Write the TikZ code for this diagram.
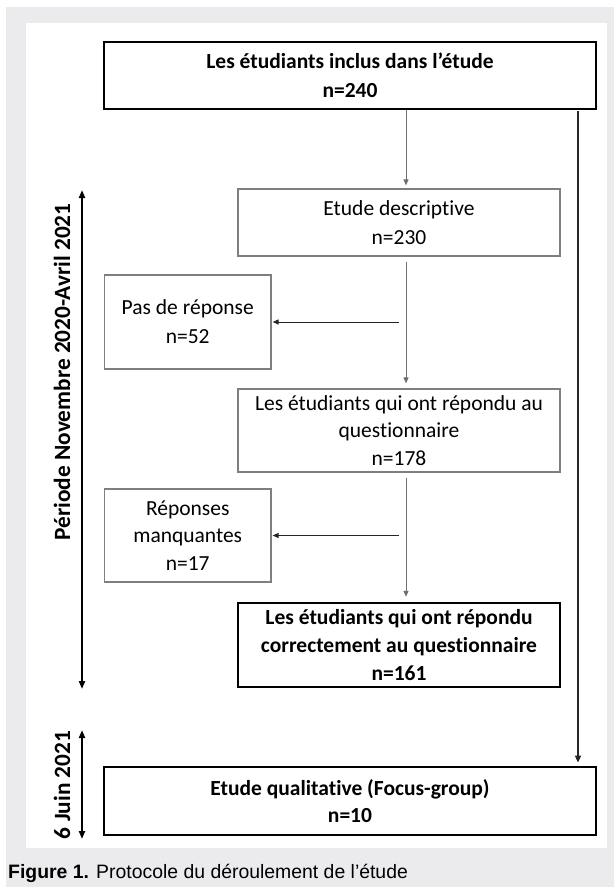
\documentclass[tikz,border=0pt]{standalone}
\usepackage{fontspec}
\setmainfont[Ligatures=NoCommon]{Carlito}
\newfontfamily\capfont{Liberation Sans}
\usetikzlibrary{arrows.meta}
\definecolor{bggray}{HTML}{EBEBED}
\definecolor{thingray}{HTML}{7F7F7F}
\definecolor{linegray}{HTML}{6E6E6E}
\definecolor{darkline}{HTML}{262626}
\begin{document}
\begin{tikzpicture}[x=1pt,y=-1pt,
  boxthin/.style={draw=thingray,line width=1.2pt,align=center,inner sep=0pt,
     font=\fontsize{21.5}{29}\selectfont,text=black},
  boxthick/.style={draw=black,line width=2.8pt,align=center,inner sep=0pt,
     font=\bfseries\fontsize{21.5}{29}\selectfont,text=black},
  thinarrow/.style={draw=linegray,line width=1pt,-{Triangle[length=6pt,width=5pt]}},
  sidearrow/.style={draw=darkline,line width=1pt,-{Triangle[length=6pt,width=5pt]}},
  bigarrow/.style={draw=black,line width=2pt,{Triangle[length=8pt,width=6pt]}-{Triangle[length=8pt,width=6pt]}},
  rightline/.style={draw=darkline,line width=2pt,-{Triangle[length=7pt,width=6pt]}},
  sidelabel/.style={rotate=90,font=\bfseries\fontsize{23.3}{27}\selectfont,inner sep=0pt}]
\useasboundingbox (0,0) rectangle (614,887);
\fill[white] (0,0) rectangle (614,887);
\fill[bggray] (6,7) rectangle (614,887);
\fill[white] (25.5,23) rectangle (607,848);

\node[boxthick,minimum width=492pt,minimum height=67pt] (top) at (350,75.5)
  {Les étudiants inclus dans l’étude\\n=240};
\node[boxthin,minimum width=322pt,minimum height=67pt] (desc) at (399,222.5)
  {Etude descriptive\\n=230};
\node[boxthin,minimum width=166.5pt,minimum height=94pt] (pas) at (187.75,322)
  {Pas de réponse\\n=52};
\node[boxthin,minimum width=322pt,minimum height=83pt,font=\fontsize{21.5}{27.5}\selectfont] (rep) at (399,430.5)
  {Les étudiants qui ont répondu au\\questionnaire\\n=178};
\node[boxthin,minimum width=166.5pt,minimum height=93pt,font=\fontsize{21.5}{27.5}\selectfont] (manq) at (187.75,535.5)
  {Réponses\\manquantes\\n=17};
\node[boxthick,line width=2.5pt,minimum width=322pt,minimum height=84pt,font=\bfseries\fontsize{21.5}{28}\selectfont] (corr) at (399,645)
  {Les étudiants qui ont répondu\\correctement au questionnaire\\n=161};
\node[boxthick,minimum width=492pt,minimum height=68pt,font=\bfseries\fontsize{21.5}{27}\selectfont] (focus) at (350,801)
  {Etude qualitative (Focus-group)\\n=10};

\coordinate (vx) at (406,0);
\coordinate (hx) at (399,0);
\coordinate (rx) at (578,0);
\coordinate (pa) at (82,190);
\coordinate (pb) at (82,689);
\coordinate (ja) at (82,730);
\coordinate (jb) at (82,839);

\draw[thinarrow,shorten >=3pt] (top.south -| vx) -- (desc.north -| vx);
\draw[thinarrow,shorten <=5pt,shorten >=5pt] (desc.south -| vx) -- (rep.north -| vx);
\draw[thinarrow,shorten <=5pt,shorten >=5pt] (rep.south -| vx) -- (corr.north -| vx);
\draw[sidearrow,shorten >=1pt] (pas.east -| hx) -- (pas.east);
\draw[sidearrow,shorten >=1pt] (manq.east -| hx) -- (manq.east);
\draw[rightline,shorten <=1pt,shorten >=3pt] (top.south -| rx) -- (focus.north -| rx);

\draw[bigarrow] (pa) -- (pb);
\draw[bigarrow] (ja) -- (jb);
\node[sidelabel] (plab) at (62,372) {Période Novembre 2020-Avril 2021};
\node[sidelabel] (jlab) at (62,785) {6 Juin 2021};

\node[anchor=base west,inner sep=0pt,font=\capfont\fontsize{19.4}{22}\selectfont,text=black] (cap) at (8,878)
  {\textbf{Figure 1.} Protocole du déroulement de l’étude};
\end{tikzpicture}
\end{document}
